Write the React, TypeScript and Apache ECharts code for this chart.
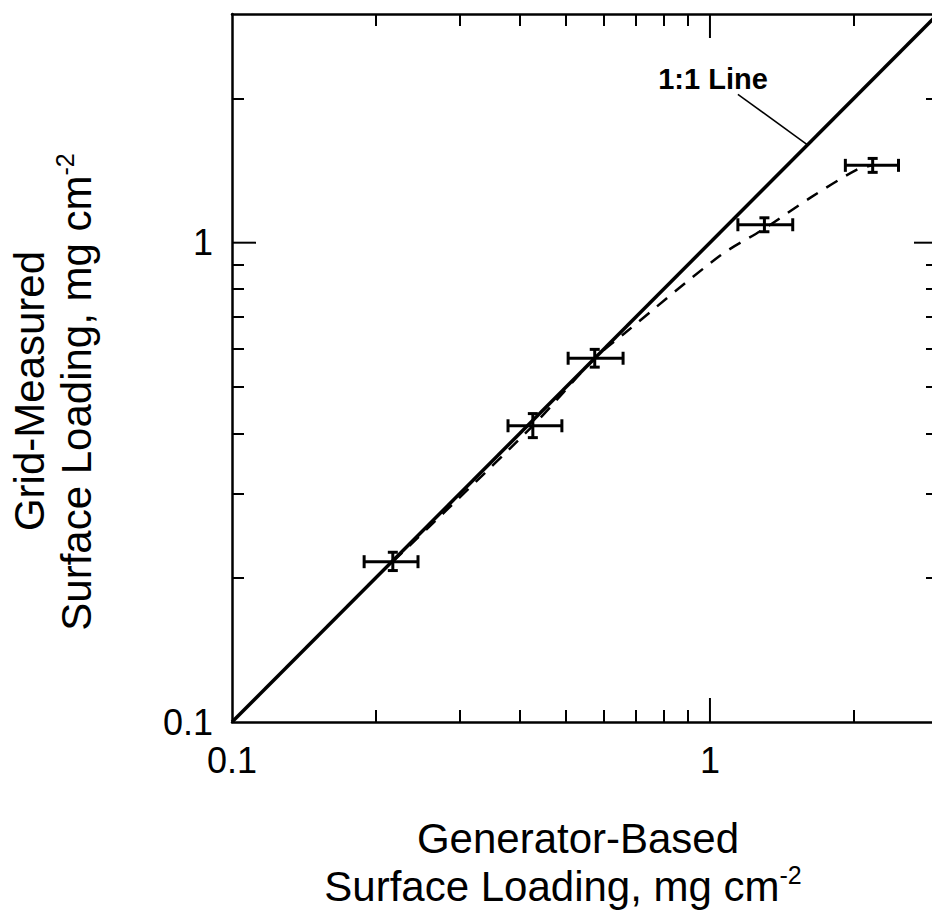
import React, { useEffect, useRef } from "react";
import * as echarts from "echarts";

// ---- data ----
const genBased = [0.217, 0.426, 0.574, 1.3, 2.19];
const gridMeasured = [0.216, 0.415, 0.574, 1.09, 1.45];
const genLow = [0.189, 0.378, 0.505, 1.144, 1.92];
const genHigh = [0.245, 0.49, 0.658, 1.49, 2.48];
const gridLow = [0.207, 0.392, 0.55, 1.054, 1.402];
const gridHigh = [0.226, 0.44, 0.599, 1.127, 1.499];

const fitX = [0.217, 0.426, 0.574, 0.664, 1.049, 1.3, 1.62, 2.03, 2.19];
const fitY = [0.216, 0.415, 0.574, 0.648, 0.939, 1.07, 1.24, 1.42, 1.45];

const oneToOne = [0.1, 3];
const leaderX = [1.144, 1.6];
const leaderY = [2.04, 1.6];

const axisMin = 0.1;
const axisMax = 3;
const minorTicks = [0.2, 0.3, 0.4, 0.5, 0.6, 0.7, 0.8, 0.9, 2];
const majorTicks = [1];
const tickLabels = [0.1, 1];

const FONT = "'Liberation Sans', Arial, Helvetica, sans-serif";
const TITLE_SIZE = 42;
const SUP_SIZE = 25;

const CHART_W = 946;
const CHART_H = 914;
const GRID = { left: 232, right: 8, top: 14, bottom: 192 };
const MAJOR_LEN = 24;

export default function App() {
  const ref = useRef<HTMLDivElement>(null);
  useEffect(() => {
    if (!ref.current) return;
    const chart = echarts.init(ref.current, null, { renderer: "svg" });
    const lineStyle = { color: "#000", width: 2.5 };
    const mkAxis = (pos: string, labels: boolean, margin: number) => ({
      type: "log",
      logBase: 10,
      min: axisMin,
      max: axisMax,
      position: pos,
      gridIndex: 0,
      axisLine: { show: true, onZero: false, lineStyle },
      axisTick: { show: true, inside: true, length: 12, customValues: minorTicks, lineStyle: { color: "#000", width: 2 } },
      axisLabel: labels
        ? { show: true, customValues: tickLabels, color: "#000", fontSize: 36, fontFamily: FONT, margin,
            formatter: (v: number) => String(v) }
        : { show: false },
      splitLine: { show: false },
      minorTick: { show: false },
      minorSplitLine: { show: false },
    });
    const errData = genBased.map((x, i) => [x, gridMeasured[i], genLow[i], genHigh[i], gridLow[i], gridHigh[i]]);
    const richTitle = {
      a: { fontSize: TITLE_SIZE, fontFamily: FONT, fill: "#000", color: "#000", lineHeight: 48 },
      s: { fontSize: SUP_SIZE, fontFamily: FONT, fill: "#000", color: "#000", verticalAlign: "top", lineHeight: 48 },
    };

    // major (long) ticks: length expressed as a ratio on the log scale
    const decades = Math.log10(axisMax / axisMin);
    const plotW = CHART_W - GRID.left - GRID.right;
    const plotH = CHART_H - GRID.top - GRID.bottom;
    const fx = Math.pow(10, (MAJOR_LEN / plotW) * decades);
    const fy = Math.pow(10, (MAJOR_LEN / plotH) * decades);
    const majorSeries: any[] = [];
    majorTicks.forEach((v) => {
      const segs = [
        [[v, axisMin], [v, axisMin * fy]],
        [[v, axisMax], [v, axisMax / fy]],
        [[axisMin, v], [axisMin * fx, v]],
        [[axisMax, v], [axisMax / fx, v]],
      ];
      segs.forEach((d) =>
        majorSeries.push({
          type: "line",
          data: d,
          symbol: "none",
          clip: false,
          silent: true,
          lineStyle: { color: "#000", width: 2, cap: "butt" },
          z: 6,
        })
      );
    });

    chart.setOption({
      animation: false,
      backgroundColor: "#fff",
      grid: { ...GRID, containLabel: false, outerBoundsMode: "none" },
      xAxis: [mkAxis("bottom", true, 20), mkAxis("top", false, 8)],
      yAxis: [mkAxis("left", true, 19), mkAxis("right", false, 8)],
      series: [
        {
          type: "line",
          data: oneToOne.map((v) => [v, v]),
          symbol: "none",
          lineStyle: { color: "#000", width: 3.5 },
          z: 3,
        },
        {
          type: "line",
          data: fitX.map((x, i) => [x, fitY[i]]),
          symbol: "none",
          smooth: 0.3,
          lineStyle: { color: "#000", width: 2.5, type: [13, 10] },
          z: 3,
        },
        {
          type: "line",
          data: leaderX.map((x, i) => [x, leaderY[i]]),
          symbol: "none",
          lineStyle: { color: "#000", width: 1.5 },
          z: 3,
        },
        ...majorSeries,
        {
          type: "custom",
          data: errData,
          encode: { x: [0, 2, 3], y: [1, 4, 5] },
          z: 4,
          renderItem: (params: any, api: any) => {
            const x = api.value(0), y = api.value(1);
            const pl = api.coord([api.value(2), y]);
            const ph = api.coord([api.value(3), y]);
            const pb = api.coord([x, api.value(4)]);
            const pt = api.coord([x, api.value(5)]);
            const st = { stroke: "#000", lineWidth: 3 };
            const hc = 6.5, vc = 5;
            const ln = (x1: number, y1: number, x2: number, y2: number) => ({
              type: "line", shape: { x1, y1, x2, y2 }, style: st,
            });
            return {
              type: "group",
              children: [
                ln(pl[0], pl[1], ph[0], ph[1]),
                ln(pl[0], pl[1] - hc, pl[0], pl[1] + hc),
                ln(ph[0], ph[1] - hc, ph[0], ph[1] + hc),
                ln(pb[0], pb[1], pt[0], pt[1]),
                ln(pb[0] - vc, pb[1], pb[0] + vc, pb[1]),
                ln(pt[0] - vc, pt[1], pt[0] + vc, pt[1]),
              ],
            };
          },
        },
      ],
      graphic: [
        {
          type: "text",
          x: 713, y: 79,
          style: { text: "1:1 Line", fontSize: 29, fontWeight: "bold", fontFamily: FONT, fill: "#000",
            align: "center", verticalAlign: "middle" },
        },
        {
          type: "text",
          x: 578, y: 838,
          style: { text: "Generator-Based", fontSize: TITLE_SIZE, fontFamily: FONT, fill: "#000",
            align: "center", verticalAlign: "middle" },
        },
        {
          type: "text",
          x: 563, y: 886,
          style: { text: "{a|Surface Loading, mg cm}{s|-2}", align: "center", verticalAlign: "middle", rich: richTitle },
        },
        {
          type: "text",
          x: 29, y: 391, rotation: Math.PI / 2,
          style: { text: "Grid-Measured", fontSize: TITLE_SIZE, fontFamily: FONT, fill: "#000",
            align: "center", verticalAlign: "middle" },
        },
        {
          type: "text",
          x: 76, y: 392, rotation: Math.PI / 2,
          style: { text: "{a|Surface Loading, mg cm}{s|-2}", align: "center", verticalAlign: "middle", rich: richTitle },
        },
      ],
    });
    return () => chart.dispose();
  }, []);
  return (
    <div
      ref={ref}
      style={{ position: "fixed", left: 0, top: 0, width: CHART_W, height: CHART_H, background: "#fff" }}
    />
  );
}
